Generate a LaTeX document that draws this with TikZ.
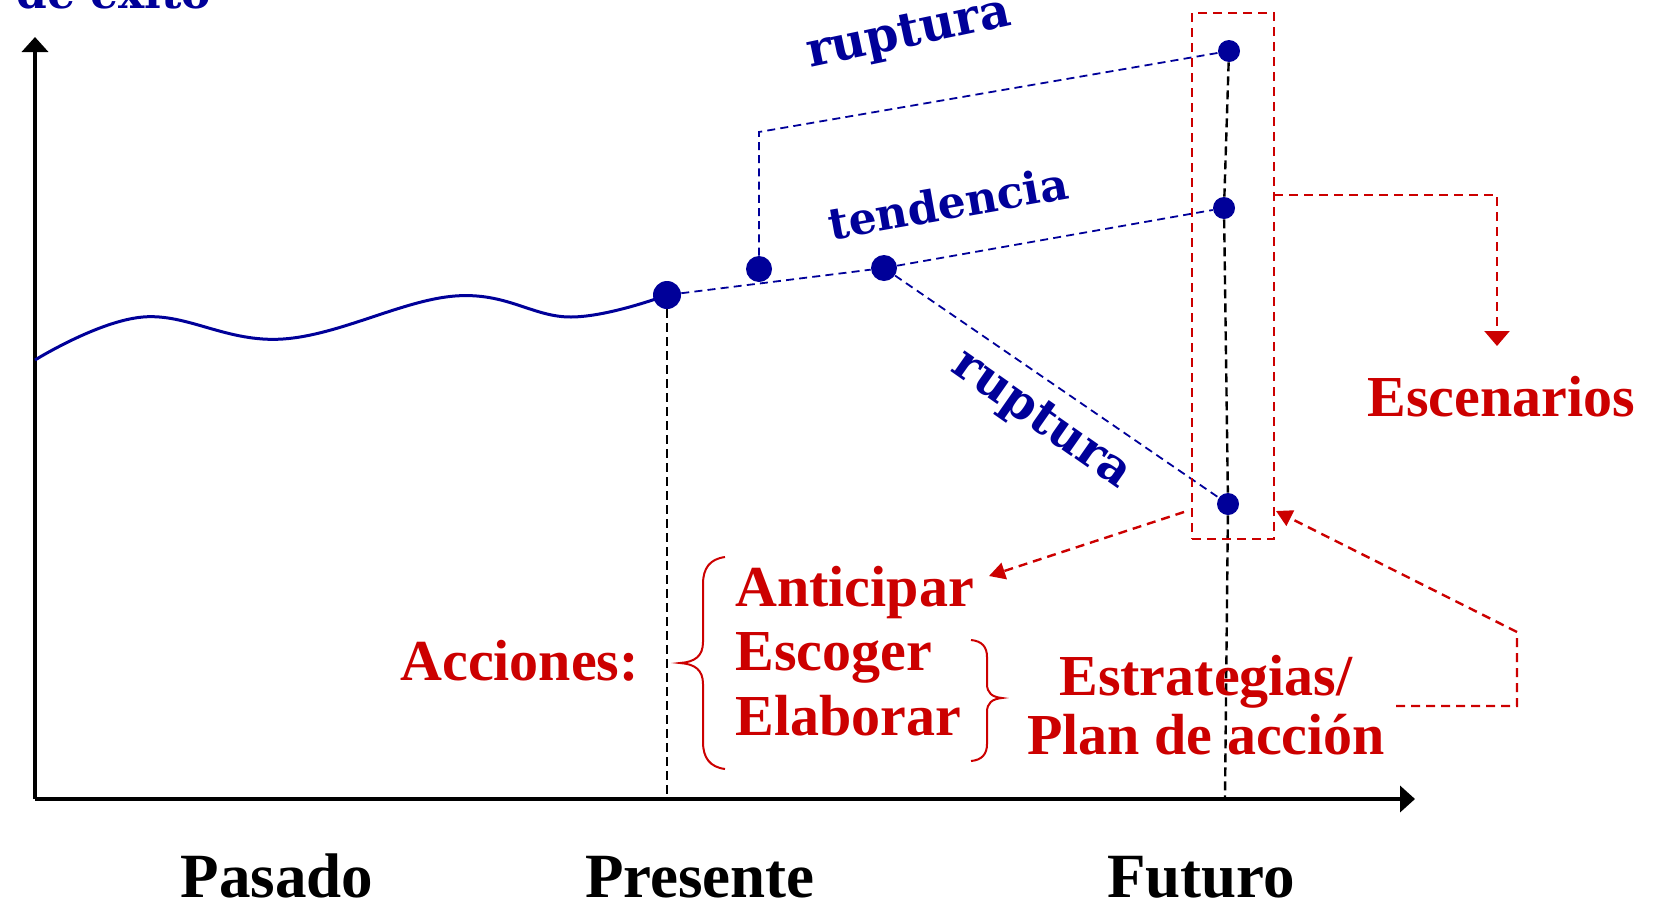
\documentclass[tikz,border=0pt]{standalone}
\usepackage{fontspec}
\setmainfont{Liberation Serif}
\newfontfamily\dvs{DejaVu Serif}
\usetikzlibrary{arrows.meta}
\definecolor{navy}{RGB}{0,0,153}
\definecolor{rojo}{RGB}{204,0,0}
\tikzset{
  axisline/.style={line width=2.2pt,-{Triangle[length=7.5pt,width=13pt]}},
  bdash/.style={navy,line width=0.9pt,dash pattern=on 4pt off 2.6pt},
  kdash/.style={black,line width=1.2pt,dash pattern=on 4.5pt off 2.5pt},
  rdash/.style={rojo,line width=1.2pt,dash pattern=on 4.5pt off 3pt},
  rarrow/.style={rdash,-{Triangle[length=8pt,width=8.5pt]}},
  bigdot/.style={circle,fill=navy,inner sep=0pt,minimum size=14pt},
  middot/.style={circle,fill=navy,inner sep=0pt,minimum size=13pt},
  smalldot/.style={circle,fill=navy,inner sep=0pt,minimum size=11pt},
  redtxt/.style={rojo,inner sep=0pt,font=\fontsize{29}{34}\selectfont\bfseries},
  blacktxt/.style={black,inner sep=0pt,font=\fontsize{31.5}{36}\selectfont\bfseries},
  bluetxt/.style={navy,inner sep=0pt,font=\dvs\fontsize{22}{26}\selectfont\bfseries},
  bigblue/.style={bluetxt,font=\dvs\fontsize{24}{28}\selectfont\bfseries},
  bracestyle/.style={rojo,line width=1pt}
}
\begin{document}
\begin{tikzpicture}[x=0.5pt,y=-0.5pt]
\useasboundingbox (0,0) rectangle (1658,900);
\clip (0,0) rectangle (1658,900);
% axes
\coordinate (origin) at (35,799);
\coordinate (ytip) at (35,37);
\coordinate (xtip) at (1415,799);
\draw[axisline] (origin) -- (ytip);
\draw[axisline] (origin) -- (xtip);
\node[bluetxt,anchor=base west] (ylabel) at (16,8) {de exito};
% dots
\node[bigdot] (p0) at (667,295) {};
\node[middot] (pa) at (759,269) {};
\node[middot] (pb) at (884,268) {};
\node[smalldot] (tr) at (1229,51) {};
\node[smalldot] (mr) at (1224,208) {};
\node[smalldot] (br) at (1228,504) {};
% wave
\draw[navy,line width=1.5pt] plot[smooth,tension=0.65] coordinates {(35,360) (143,317) (283,339) (455,296) (571,317) (p0.center)};
% vertical dashed
\coordinate (p0b) at (667,797);
\coordinate (frb) at (1225,797);
\draw[kdash] (p0) -- (p0b);
\draw[kdash] (tr) -- (mr) -- (br) -- (frb);
% blue dashed lines
\coordinate (ca) at (759,132);
\draw[bdash] (pa) -- (ca) -- (tr);
\draw[bdash] (p0) -- (pb) -- (mr);
\draw[bdash] (pb) -- (br);
% blue labels
\node[bigblue,rotate=12] (rup1) at (909,35) {ruptura};
\node[bluetxt,rotate=10] (tend) at (948,203) {tendencia};
\node[bigblue,rotate=-35] (rup2) at (1041,421) {ruptura};
% red box
\node[rdash,draw,minimum width=41pt,minimum height=263pt,inner sep=0pt] (box) at (1233,276) {};
% escenarios
\coordinate (e1) at (1274,195);
\coordinate (e2) at (1497,195);
\coordinate (e3) at (1497,346);
\draw[rdash,-{Triangle[length=7.5pt,width=12.5pt]}] (e1) -- (e2) -- (e3);
\node[redtxt,anchor=base west] (esc) at (1367,416) {Escenarios};
% texts
\node[redtxt,anchor=base west] (acc) at (400,680) {Acciones:};
\node[redtxt,anchor=base west] (ant) at (735,606) {Anticipar};
\node[redtxt,anchor=base west] (escg) at (735,670) {Escoger};
\node[redtxt,anchor=base west] (ela) at (735,735) {Elaborar};
\node[redtxt,anchor=base] (estr) at (1206,695) {Estrategias/};
\node[redtxt,anchor=base] (plan) at (1206,754) {Plan de acción};
% braces
\draw[bracestyle] (725,557) .. controls (710,559) and (703,568) .. (703,584) -- (703,642) .. controls (703,656) and (695,662) .. (680,663) .. controls (695,664) and (703,670) .. (703,684) -- (703,742) .. controls (703,758) and (710,767) .. (725,769);
\draw[bracestyle] (971,640) .. controls (982,641) and (987,647) .. (987,657) -- (987,684) .. controls (987,693) and (992,697) .. (1002,698) .. controls (992,699) and (987,703) .. (987,712) -- (987,744) .. controls (987,754) and (982,760) .. (971,761);
% red arrows
\coordinate (a1s) at (1184,512);
\coordinate (a1e) at (989,576);
\draw[rarrow] (a1s) -- (a1e);
\coordinate (a2s) at (1396,706);
\coordinate (a2b) at (1517,706);
\coordinate (a2c) at (1517,632);
\coordinate (a2e) at (1276,511);
\draw[rarrow] (a2s) -- (a2b) -- (a2c) -- (a2e);
% time labels
\node[blacktxt,anchor=base] (pas) at (277,897) {Pasado};
\node[blacktxt,anchor=base] (pre) at (700,897) {Presente};
\node[blacktxt,anchor=base] (fut) at (1201,897) {Futuro};
\end{tikzpicture}
\end{document}
